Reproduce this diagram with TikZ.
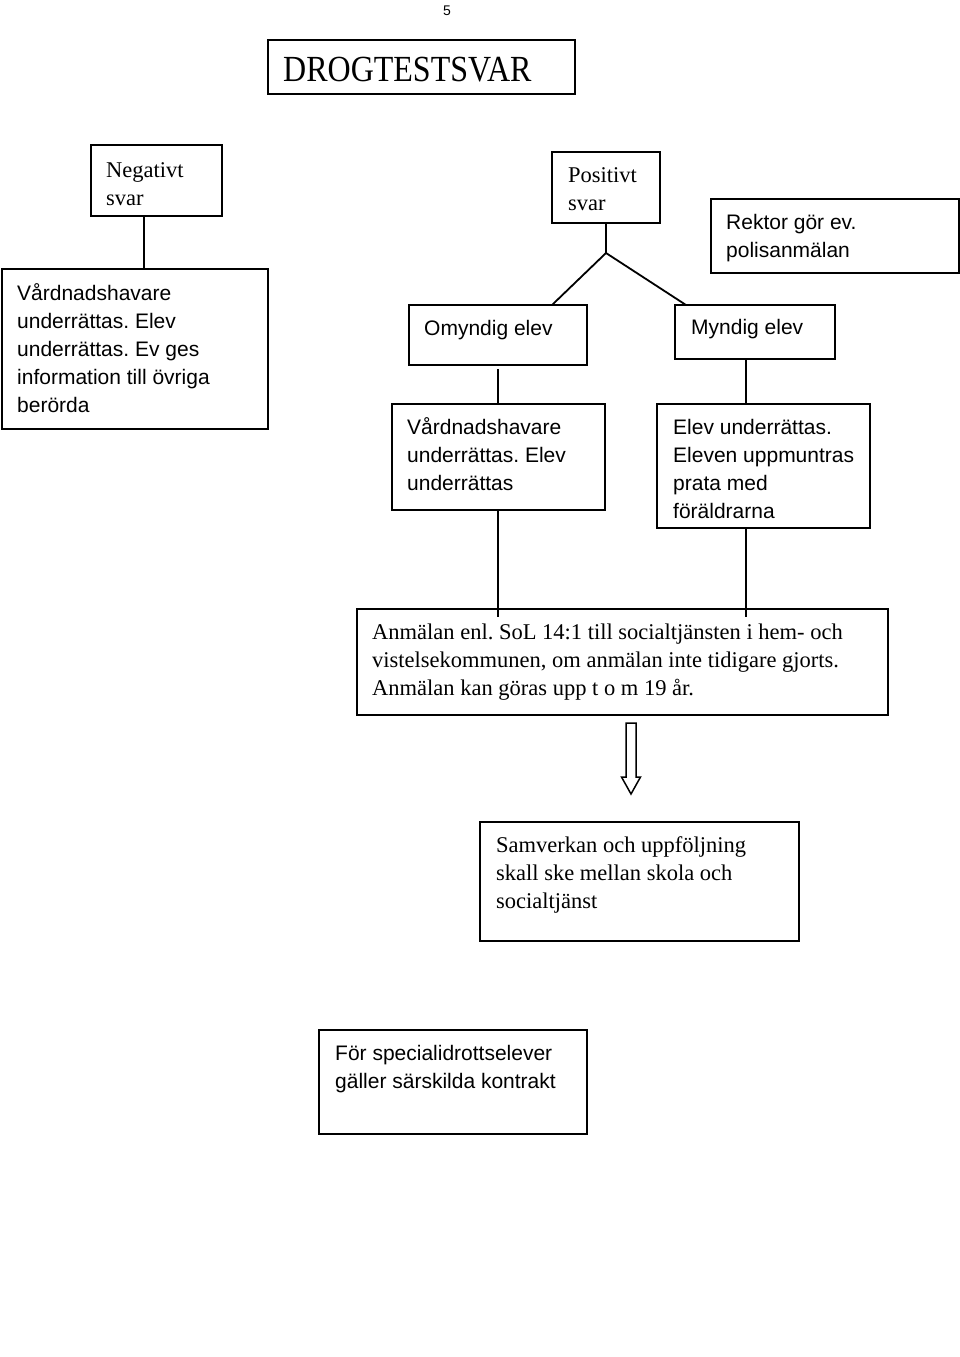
\documentclass[tikz,border=0pt]{standalone}
\usepackage{fontspec}
\setmainfont{Liberation Serif}
\newfontfamily\sansf{Liberation Sans}
\frenchspacing
\tikzset{
  box/.style={draw=black, line width=1.8pt, rectangle, inner sep=0pt, outer sep=0pt, anchor=north west},
  conn/.style={draw=black, line width=1.8pt},
  serift/.style={anchor=base west, inner sep=0pt, font=\fontsize{22.5}{28}\selectfont},
  sanst/.style={anchor=base west, inner sep=0pt, font=\sansf\fontsize{21}{28}\selectfont},
}
\newcommand{\mylines}[1]{\begin{tabular}[t]{@{}l@{}}#1\end{tabular}}
\begin{document}
\begin{tikzpicture}[x=1pt,y=-1pt]
\useasboundingbox[fill=white] (0,0) rectangle (960,1357);
% page number
\node[anchor=base west, inner sep=0pt, font=\sansf\fontsize{14}{16}\selectfont] (pnum) at (443,15) {5};
% boxes
\node[box, minimum width=307, minimum height=54] (title) at (268,40) {};
\node[box, minimum width=131, minimum height=71] (neg) at (91,145) {};
\node[box, minimum width=266, minimum height=160] (vard) at (2,269) {};
\node[box, minimum width=108, minimum height=71] (pos) at (552,152) {};
\node[box, minimum width=248, minimum height=74] (rektor) at (711,199) {};
\node[box, minimum width=178, minimum height=60] (omy) at (409,305) {};
\node[box, minimum width=160, minimum height=54] (myn) at (675,305) {};
\node[box, minimum width=213, minimum height=106] (vh) at (392,404) {};
\node[box, minimum width=213, minimum height=124] (elev) at (657,404) {};
\node[box, minimum width=531, minimum height=106] (anm) at (357,609) {};
\node[box, minimum width=319, minimum height=119] (samv) at (480,822) {};
\node[box, minimum width=268, minimum height=104] (forb) at (319,1030) {};
% texts
\node[anchor=base west, inner sep=0pt, font=\fontsize{32}{36}\selectfont] (ttitle) at (283,81) {\scalebox{1}[1.15]{DROGTESTSVAR}};
\node[serift] (tneg) at (106,177) {\mylines{Negativt\\svar}};
\node[sanst] (tvard) at (17,300) {\mylines{Vårdnadshavare\\underrättas. Elev\\underrättas. Ev ges\\information till övriga\\berörda}};
\node[serift] (tpos) at (568,182) {\mylines{Positivt\\svar}};
\node[sanst] (trek) at (726,229) {\mylines{Rektor gör ev.\\polisanmälan}};
\node[sanst] (tomy) at (424,335) {Omyndig elev};
\node[sanst] (tmyn) at (691,334) {Myndig elev};
\node[sanst] (tvh) at (407,434) {\mylines{Vårdnadshavare\\underrättas. Elev\\underrättas}};
\node[sanst] (telev) at (673,434) {\mylines{Elev underrättas.\\Eleven uppmuntras\\prata med\\föräldrarna}};
\node[serift] (tanm) at (372,639) {\mylines{Anmälan enl. SoL 14:1 till socialtjänsten i hem- och\\vistelsekommunen, om anmälan inte tidigare gjorts.\\Anmälan kan göras upp t o m 19 år.}};
\node[serift] (tsamv) at (496,852) {\mylines{Samverkan och uppföljning\\skall ske mellan skola och\\socialtjänst}};
\node[sanst] (tfor) at (335,1060) {\mylines{För specialidrottselever\\gäller särskilda kontrakt}};
% helper coordinates
\coordinate (xneg) at (144,0);
\coordinate (apex) at ([yshift=-30pt]pos.south);
\coordinate (xomy) at (552,0);
\coordinate (xmyn) at (686,0);
\coordinate (xl) at (498,0);
\coordinate (xr) at (746,0);
\coordinate (anmin) at (0,617);
% connectors
\draw[conn] (xneg |- neg.south) -- (xneg |- vard.north);
\draw[conn] (pos.south) -- (apex);
\draw[conn, line join=miter] (xomy |- omy.north) -- (apex) -- (xmyn |- myn.north);
\draw[conn] ([yshift=-4pt]xl |- omy.south) -- (xl |- vh.north);
\draw[conn] (xl |- vh.south) -- (xl |- anmin);
\draw[conn] (xr |- myn.south) -- (xr |- elev.north);
\draw[conn] (xr |- elev.south) -- (xr |- anmin);
% hollow block arrow
\draw[line width=1.5pt, line join=miter] (626,723) -- (636,723) -- (636,777) -- (640.5,777) -- (631,794) -- (621.5,777) -- (626,777) -- cycle;
\end{tikzpicture}
\end{document}
